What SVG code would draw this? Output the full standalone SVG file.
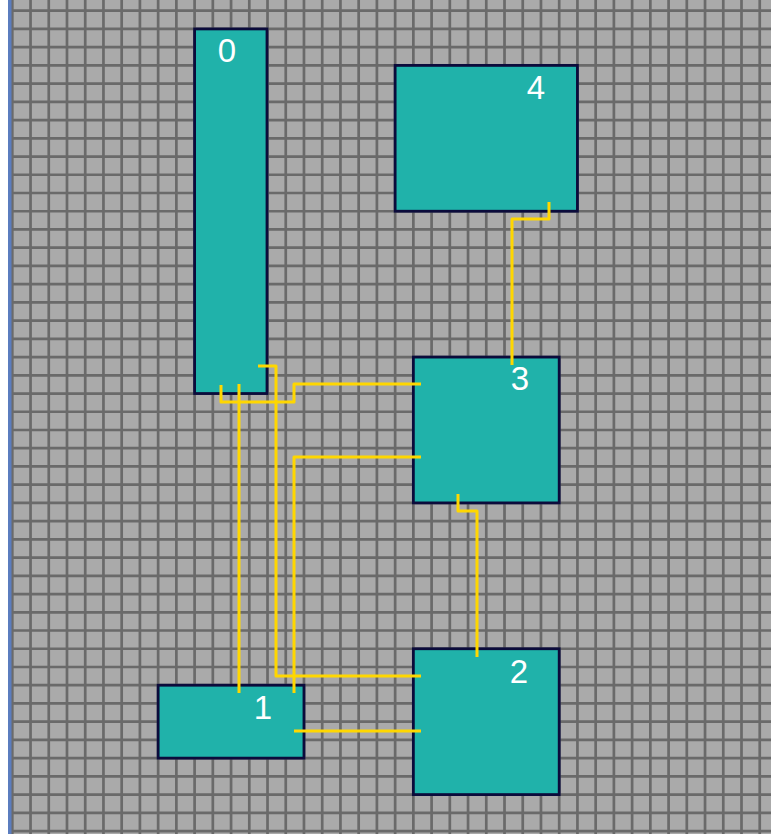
<svg xmlns="http://www.w3.org/2000/svg" width="771" height="834" viewBox="0 0 771 834">
<style>
.node rect{fill:#20b2aa;stroke:#0b0b3b;stroke-width:2.8}
.node text{fill:#ffffff;font-family:"Liberation Sans",Arial,sans-serif;font-size:33px;text-anchor:middle}
.grid{stroke:#6a6a6a;stroke-width:2.7;fill:none}
.conn path{fill:none;stroke:#ffd700;stroke-width:3;stroke-linejoin:round}
</style>
<rect x="0" y="0" width="771" height="834" fill="#ffffff"/>
<rect x="11" y="0" width="760" height="834" fill="#aaaaaa"/>
<path class="grid" d="M12.3 0V834M30.53 0V834M48.76 0V834M66.99 0V834M85.22 0V834M103.45 0V834M121.68 0V834M139.91 0V834M158.14 0V834M176.37 0V834M194.6 0V834M212.83 0V834M231.06 0V834M249.29 0V834M267.52 0V834M285.75 0V834M303.98 0V834M322.21 0V834M340.44 0V834M358.67 0V834M376.9 0V834M395.13 0V834M413.36 0V834M431.59 0V834M449.82 0V834M468.05 0V834M486.28 0V834M504.51 0V834M522.74 0V834M540.97 0V834M559.2 0V834M577.43 0V834M595.66 0V834M613.89 0V834M632.12 0V834M650.35 0V834M668.58 0V834M686.81 0V834M705.04 0V834M723.27 0V834M741.5 0V834M759.73 0V834M11 10.7H771M11 28.93H771M11 47.16H771M11 65.39H771M11 83.62H771M11 101.85H771M11 120.08H771M11 138.31H771M11 156.54H771M11 174.77H771M11 193H771M11 211.23H771M11 229.46H771M11 247.69H771M11 265.92H771M11 284.15H771M11 302.38H771M11 320.61H771M11 338.84H771M11 357.07H771M11 375.3H771M11 393.53H771M11 411.76H771M11 429.99H771M11 448.22H771M11 466.45H771M11 484.68H771M11 502.91H771M11 521.14H771M11 539.37H771M11 557.6H771M11 575.83H771M11 594.06H771M11 612.29H771M11 630.52H771M11 648.75H771M11 666.98H771M11 685.21H771M11 703.44H771M11 721.67H771M11 739.9H771M11 758.13H771M11 776.36H771M11 794.59H771M11 812.82H771M11 831.05H771"/>
<rect x="8" y="0" width="3.5" height="834" fill="#5b7dbf"/>
<g id="node-0" class="node"><rect x="194.6" y="28.93" width="72.4" height="364.6"/><text x="227" y="62">0</text></g>
<g id="node-4" class="node"><rect x="395.13" y="65.39" width="182.3" height="145.84"/><text x="536" y="99">4</text></g>
<g id="node-3" class="node"><rect x="413.36" y="357.07" width="145.84" height="145.84"/><text x="520" y="390">3</text></g>
<g id="node-2" class="node"><rect x="413.36" y="648.75" width="145.84" height="145.84"/><text x="519" y="683">2</text></g>
<g id="node-1" class="node"><rect x="158.14" y="685.21" width="145.84" height="72.92"/><text x="263" y="719">1</text></g>
<g id="connectors" class="conn">
<path d="M549 202V219H512V365"/>
<path d="M458 494V511H477V657"/>
<path d="M221 385V402H294V384H421"/>
<path d="M258 366H276V676H421"/>
<path d="M239 384V693"/>
<path d="M421 457H294V693"/>
<path d="M294 731H421"/>
</g>
</svg>
